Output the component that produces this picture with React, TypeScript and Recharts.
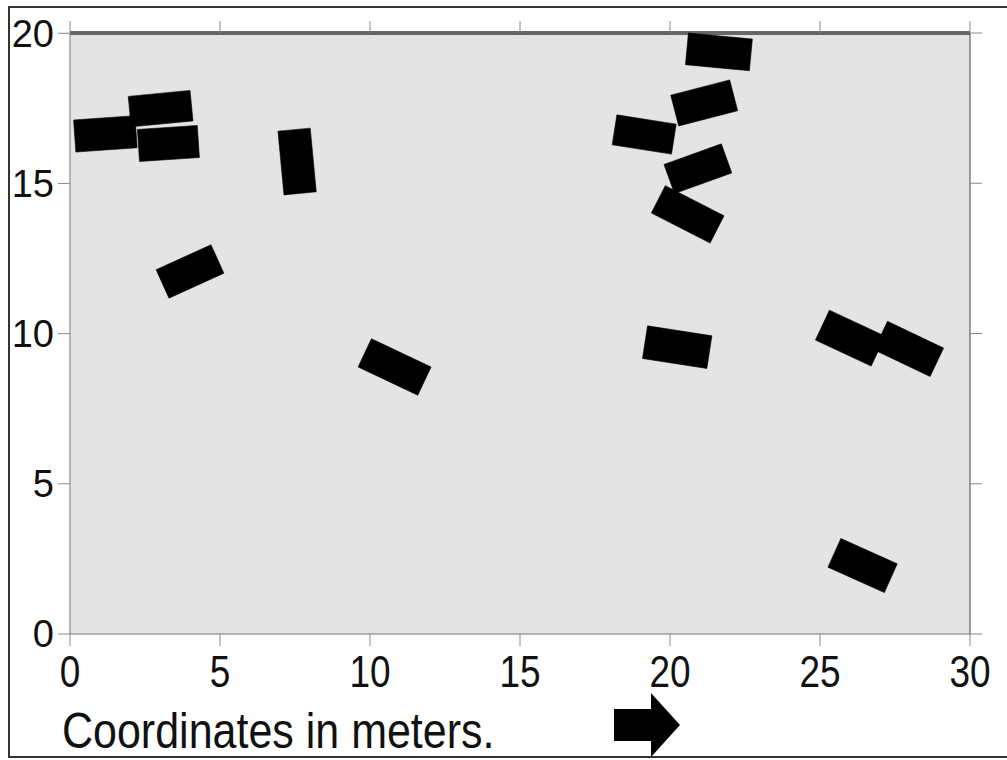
import { ScatterChart, Scatter, XAxis, YAxis, CartesianGrid } from "recharts";

const xTicks = [0, 5, 10, 15, 20, 25, 30];
const yTicks = [0, 5, 10, 15, 20];

// vehicle footprints in meters: centre, size and heading (degrees, counter-clockwise)
const carX = [1.18, 3.02, 3.28, 7.57, 4.0, 10.82, 21.63, 21.14, 19.14, 20.93, 20.59, 20.24, 26.01, 27.96, 26.42];
const carY = [16.65, 17.49, 16.33, 15.73, 12.07, 8.89, 19.38, 17.68, 16.63, 15.49, 13.97, 9.55, 9.85, 9.49, 2.28];
const carLength = [2.05, 2.07, 2.0, 2.13, 2.01, 2.2, 2.14, 2.03, 2.0, 2.03, 2.2, 2.17, 2.05, 2.07, 2.06];
const carWidth = [1.07, 1.02, 1.07, 1.08, 1.04, 1.04, 1.06, 1.06, 1.01, 1.03, 1.02, 1.1, 1.1, 1.05, 1.05];
const carAngle = [4, 5.5, 3.8, 95.4, 24.4, -25.3, -5.4, 14.5, -8.9, 19.8, -27.1, -8.8, -25, -25.4, -24.2];

const FONT = '"Liberation Sans", Arial, Helvetica, sans-serif';

type Pt = { x: number; y: number };

function carCorners(i: number): Pt[] {
  const a = (carAngle[i] * Math.PI) / 180;
  const hl = carLength[i] / 2;
  const hw = carWidth[i] / 2;
  const ux = Math.cos(a);
  const uy = Math.sin(a);
  return [
    [1, 1],
    [-1, 1],
    [-1, -1],
    [1, -1],
  ].map(([s, t]) => ({
    x: carX[i] + s * hl * ux - t * hw * uy,
    y: carY[i] + s * hl * uy + t * hw * ux,
  }));
}

const cars = carX.map((_, i) => carCorners(i));

const fillCar = (props: any) => (
  <polygon
    points={props.points.map((p: Pt) => `${p.x},${p.y}`).join(" ")}
    fill="#000"
    stroke="#000"
    strokeWidth={0.6}
  />
);

const BottomTick = ({ x, y, payload }: any) => (
  <text
    transform={`translate(${x},${y + 39}) scale(1,1.2)`}
    textAnchor="middle"
    fontSize={37}
    fontFamily={FONT}
    fill="#111"
  >
    {payload.value}
  </text>
);

const NoShape = () => <g />;

export default function App() {
  return (
    <div style={{ position: "absolute", left: 0, top: 0, width: 1007, height: 760, background: "#fff" }}>
      <div
        style={{
          position: "absolute",
          left: 8,
          top: 6,
          width: 999,
          height: 752,
          boxSizing: "border-box",
          borderLeft: "2px solid #333",
          borderTop: "2px solid #333",
          borderBottom: "2px solid #333",
        }}
      />
      <div style={{ position: "absolute", left: 0, top: 0 }}>
        <ScatterChart width={1007} height={760} margin={{ top: 0, right: 0, bottom: 0, left: 0 }}>
          <CartesianGrid fill="#e4e4e4" stroke="none" horizontal={false} vertical={false} />
          <XAxis
            type="number"
            dataKey="x"
            domain={[0, 30]}
            ticks={xTicks}
            height={126}
            tickSize={12}
            tick={BottomTick}
            axisLine={{ stroke: "#777" }}
            tickLine={{ stroke: "#888" }}
          />
          <XAxis
            xAxisId="top"
            orientation="top"
            type="number"
            dataKey="x"
            domain={[0, 30]}
            ticks={xTicks}
            height={33}
            tickSize={12}
            tick={NoShape}
            axisLine={{ stroke: "#666", strokeWidth: 4 }}
            tickLine={{ stroke: "#888" }}
          />
          <YAxis
            type="number"
            dataKey="y"
            domain={[0, 20]}
            ticks={yTicks}
            width={70}
            tickSize={12}
            tickMargin={4}
            tick={{ fontSize: 38, fill: "#111", fontFamily: FONT }}
            axisLine={{ stroke: "#777" }}
            tickLine={{ stroke: "#888" }}
          />
          <YAxis
            yAxisId="right"
            orientation="right"
            type="number"
            dataKey="y"
            domain={[0, 20]}
            ticks={yTicks}
            width={37}
            tickSize={12}
            tick={NoShape}
            axisLine={{ stroke: "#444" }}
            tickLine={{ stroke: "#888" }}
          />
          {/* invisible series so the top and right frame axes get their ticks */}
          <Scatter
            data={cars[0]}
            xAxisId="top"
            yAxisId="right"
            shape={NoShape}
            isAnimationActive={false}
          />
          {cars.map((corners, i) => (
            <Scatter
              key={i}
              data={corners}
              line={fillCar}
              shape={NoShape}
              isAnimationActive={false}
            />
          ))}
        </ScatterChart>
      </div>
      <svg width={1007} height={760} style={{ position: "absolute", left: 0, top: 0, pointerEvents: "none" }}>
        <text transform="translate(62,748) scale(1,1.18)" fontSize={43} fontFamily={FONT} fill="#111">
          Coordinates in meters.
        </text>
        <polygon points="614,709 651,709 651,693 680,725 651,757 651,741 614,741" fill="#000" />
      </svg>
    </div>
  );
}
